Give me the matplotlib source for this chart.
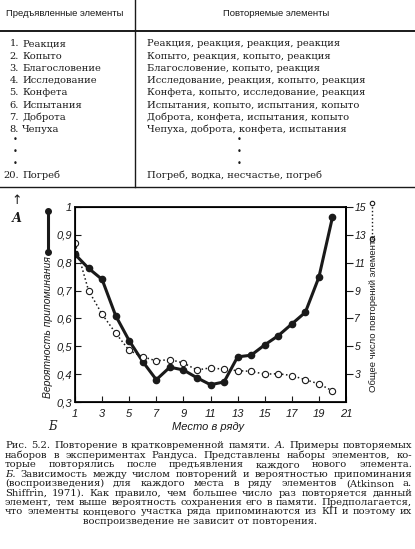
import numpy as np
import matplotlib
matplotlib.use('Agg')
import matplotlib.pyplot as plt
from matplotlib.lines import Line2D

W, H = 415, 549

# данные: таблица
nomera = ['1.', '2.', '3.', '4.', '5.', '6.', '7.', '8.']
predyav = ['Реакция', 'Копыто', 'Благословение', 'Исследование', 'Конфета',
           'Испытания', 'Доброта', 'Чепуха']
povtor = ['Реакция, реакция, реакция, реакция',
          'Копыто, реакция, копыто, реакция',
          'Благословение, копыто, реакция',
          'Исследование, реакция, копыто, реакция',
          'Конфета, копыто, исследование, реакция',
          'Испытания, копыто, испытания, копыто',
          'Доброта, конфета, испытания, копыто',
          'Чепуха, доброта, конфета, испытания']
posl_nomer = '20.'
posl_predyav = 'Погреб'
posl_povtor = 'Погреб, водка, несчастье, погреб'

# данные: график
mesto = list(range(1, 21))
veroyatnost = [0.83, 0.78, 0.74, 0.61, 0.52, 0.445, 0.38, 0.425, 0.415, 0.387,
               0.362, 0.372, 0.462, 0.468, 0.505, 0.538, 0.58, 0.622, 0.748, 0.963]
chislo_povt = [12.4, 9.0, 7.3, 5.95, 4.7, 4.25, 3.95, 4.05, 3.8, 3.3,
               3.45, 3.35, 3.25, 3.2, 3.0, 3.03, 2.9, 2.6, 2.3, 1.8]
x_ticks = list(range(1, 22, 2))
y_ticks = [0.3, 0.4, 0.5, 0.6, 0.7, 0.8, 0.9, 1.0]
y_labels = ['0,3', '0,4', '0,5', '0,6', '0,7', '0,8', '0,9', '1']
y2_ticks = [3, 5, 7, 9, 11, 13, 15]

podpis = ['Рис. 5.2. Повторение в кратковременной памяти. А. Примеры повторяемых',
          'наборов в экспериментах Рандуса. Представлены наборы элементов, ко-',
          'торые повторялись после предъявления каждого нового элемента.',
          'Б. Зависимость между числом повторений и вероятностью припоминания',
          '(воспроизведения) для каждого места в ряду элементов (Atkinson a.',
          'Shiffrin, 1971). Как правило, чем большее число раз повторяется данный',
          'элемент, тем выше вероятность сохранения его в памяти. Предполагается,',
          'что элементы концевого участка ряда припоминаются из КП и поэтому их',
          'воспроизведение не зависит от повторения.']

ink = '#1a1a1a'
serif = 'DejaVu Serif'
sans = 'Liberation Sans'

fig = plt.figure(figsize=(W / 100, H / 100), dpi=100)
fig.patch.set_facecolor('white')


def fx(x):
    return x / W


def fy(y):
    return 1 - y / H


def txt(x, y, s, **kw):
    kw.setdefault('color', ink)
    kw.setdefault('va', 'center')
    return fig.text(fx(x), fy(y), s, **kw)


def hline(x0, x1, y, lw=1.0):
    fig.add_artist(Line2D([fx(x0), fx(x1)], [fy(y), fy(y)], color=ink, lw=lw,
                          transform=fig.transFigure))


def vline(x, y0, y1, lw=1.0):
    fig.add_artist(Line2D([fx(x), fx(x)], [fy(y0), fy(y1)], color=ink, lw=lw,
                          transform=fig.transFigure))


# ---- таблица ----
fs_tab = 7.1
txt(65, 14, 'Предъявленные элементы', ha='center', fontsize=6.8, family=sans)
txt(276, 14, 'Повторяемые элементы', ha='center', fontsize=6.8, family=sans)
hline(0, 415, 31, lw=1.4)
vline(135, 0, 187, lw=1.0)
hline(0, 415, 187, lw=1.0)

row_y = 44
for i in range(len(predyav)):
    y = row_y + i * 12.2
    txt(19, y, nomera[i], ha='right', fontsize=fs_tab, family=serif)
    txt(22, y, predyav[i], ha='left', fontsize=fs_tab, family=serif)
    txt(147, y, povtor[i], ha='left', fontsize=fs_tab, family=serif)
for y in [139, 151, 163]:
    txt(15, y, '•', ha='center', fontsize=6, family='DejaVu Sans')
    txt(239, y, '•', ha='center', fontsize=6, family='DejaVu Sans')
txt(19, 175, posl_nomer, ha='right', fontsize=fs_tab, family=serif)
txt(22, 175, posl_predyav, ha='left', fontsize=fs_tab, family=serif)
txt(147, 175, posl_povtor, ha='left', fontsize=fs_tab, family=serif)

# ---- график ----
ax = fig.add_axes([fx(75), fy(402), fx(346) - fx(75), fy(207) - fy(402)])
ax.plot(mesto, veroyatnost, color=ink, lw=2.2, marker='o', ms=4.5,
        mfc=ink, mec=ink, zorder=3)
ax.set_xlim(1, 21)
ax.set_ylim(0.3, 1.0)
ax.set_xticks(x_ticks)
ax.set_xticklabels([str(v) for v in x_ticks], fontsize=8, style='italic', family=sans)
ax.set_yticks(y_ticks)
ax.set_yticklabels(y_labels, fontsize=8, style='italic', family=sans)
ax.tick_params(axis='both', direction='in', length=4, width=0.8, colors=ink, pad=2)
ax.tick_params(axis='x', pad=5)
for s in ax.spines.values():
    s.set_linewidth(1.4)
    s.set_color(ink)

ax2 = ax.twinx()
ax2.plot(mesto, chislo_povt, color=ink, lw=1.1, ls=':', marker='o', ms=4.5,
         mfc='white', mec=ink, mew=0.8, zorder=2)
ax2.set_ylim(1, 15)
ax2.set_yticks(y2_ticks)
ax2.set_yticklabels([str(v) for v in y2_ticks], fontsize=7.5, style='italic', family=sans)
ax2.tick_params(axis='y', direction='out', length=5, width=0.8, colors=ink, pad=1)
ax2.spines['right'].set_linewidth(1.4)

# подписи осей
txt(48, 327, 'Вероятность припоминания', ha='center', rotation=90,
    fontsize=7.5, style='italic', family=sans)
txt(373, 313, 'Общее число повторений элемента', ha='center', rotation=90,
    fontsize=6.8, family=sans)
txt(208, 427, 'Место в ряду', ha='center', fontsize=8, style='italic', family=sans)

# условные обозначения
fig.add_artist(Line2D([fx(48), fx(48)], [fy(211), fy(252)], color=ink, lw=2.2,
                      marker='o', ms=4, mfc=ink, transform=fig.transFigure))
fig.add_artist(Line2D([fx(372), fx(372)], [fy(203), fy(239)], color=ink, lw=1.0,
                      ls=':', transform=fig.transFigure))
fig.add_artist(Line2D([fx(372), fx(372)], [fy(203), fy(239)], color=ink, lw=0,
                      marker='o', ms=3.2, mfc='white', mec=ink, mew=0.8,
                      transform=fig.transFigure))

# буквы
txt(17, 200, '↑', ha='center', fontsize=9, family='DejaVu Sans')
txt(17, 218, 'А', ha='center', fontsize=9, style='italic', weight='bold', family=serif)
txt(52, 426, 'Б', ha='center', fontsize=8.5, style='italic', family=serif)

# ---- подпись к рисунку, по ширине ----
r = fig.canvas.get_renderer()
cap_size = 7.2
x_left, x_right = 5, 412
for k, line in enumerate(podpis):
    y = 446 + k * 9.4
    if k == len(podpis) - 1:
        txt(200, y, line, ha='center', fontsize=cap_size, family=serif)
        continue
    words = line.split()
    objs = []
    for w in words:
        st = 'italic' if w in ('А.', 'Б.') else 'normal'
        objs.append(txt(0, y, w, ha='left', fontsize=cap_size, family=serif, style=st))
    widths = [o.get_window_extent(r).width for o in objs]
    gap = (x_right - x_left - sum(widths)) / (len(words) - 1)
    x = x_left
    for o, wd in zip(objs, widths):
        o.set_x(fx(x))
        x += wd + gap

fig.savefig('out.png', dpi=100, facecolor='white')
